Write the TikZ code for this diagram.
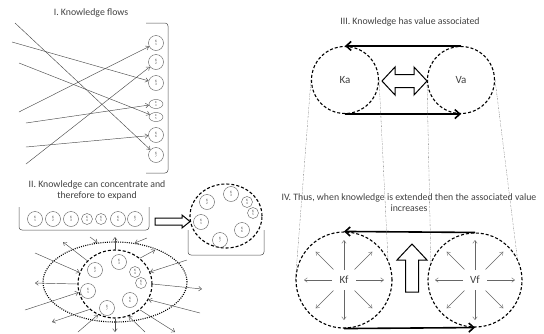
\documentclass[tikz,border=0pt]{standalone}
\usepackage{fontspec}
\setmainfont{Carlito}
\usetikzlibrary{arrows.meta,shapes.geometric}
\begin{document}
\begin{tikzpicture}[x=1pt,y=-1pt,
  title/.style={font=\fontsize{9.8}{11}\selectfont, text=black!75, align=center},
  kc/.style={circle, draw=black!65, line width=0.4pt, minimum size=15pt, inner sep=0pt, align=center, font=\fontsize{3.5}{3.4}\selectfont, text=black!70},
  kcs/.style={kc, minimum size=11pt},
  kce/.style={ellipse, draw=black!65, line width=0.4pt, minimum width=14pt, minimum height=9pt, inner sep=0pt, align=center, font=\fontsize{3}{2.8}\selectfont, text=black!70},
  flow/.style={draw=black!70, line width=0.45pt, -{Straight Barb[length=3pt,width=4.5pt]}},
  brk/.style={draw=black!70, line width=0.5pt, rounded corners=3pt},
  bigcirc/.style={draw=black, line width=1.1pt, dash pattern=on 3pt off 2pt, inner sep=0pt},
  dotell/.style={ellipse, draw=black, line width=1.1pt, dash pattern=on 1pt off 1.2pt, inner sep=0pt},
  bigarrow/.style={draw=black, line width=1.6pt, -{Straight Barb[length=5pt,width=9pt]}},
  guide/.style={draw=black!55, line width=0.3pt, dash pattern=on 2pt off 1pt on 0.5pt off 1pt},
  hollow/.style={draw=black, line width=1pt, fill=white, line join=miter},
  lbl/.style={font=\fontsize{11}{12}\selectfont, text=black!75},
  sarrow/.style={draw=black!60, line width=0.4pt, -{Straight Barb[length=3pt,width=4.5pt]}},
]
\useasboundingbox (0,0) rectangle (544,333);

% ---------- I ----------
\node[title] (t1) at (91,13) {I. Knowledge flows};
\draw[brk] (146,23) -- (168,23) -- (168,173) -- (146,173);
\node[kc] (k1) at (156,43) {K\\1};
\node[kc] (k2) at (156,62) {K\\2};
\node[kc] (k3) at (156,83) {K\\3};
\node[kce] (k4) at (156,104) {K\\4};
\node[kce] (k5) at (156,117) {K\\5};
\node[kc] (k6) at (156,135) {K\\6};
\node[kc] (k7) at (156,155) {K\\7};
\coordinate (a1) at (15,23);
\coordinate (a2) at (12,42);
\coordinate (a3) at (19,63);
\coordinate (a4) at (19,112);
\coordinate (a5) at (26,123);
\coordinate (a6) at (26,147);
\coordinate (a7) at (26,164);
\draw[flow] (a1) -- (k7);
\draw[flow] (a2) -- (k3);
\draw[flow] (a3) -- (k5);
\draw[flow] (a4) -- (k1);
\draw[flow] (a5) -- (k4);
\draw[flow] (a6) -- (k6);
\draw[flow] (a7) -- (k2);

% ---------- II ----------
\node[title] (t2) at (97,190) {II. Knowledge can concentrate and\\therefore to expand};
\draw[brk] (19,207) -- (19,230) -- (149,230) -- (149,207);
\node[kc] (r1) at (35,219) {K\\1};
\node[kc] (r2) at (53,219) {K\\2};
\node[kc] (r3) at (71,219) {K\\3};
\node[kcs] (r4) at (87,219) {K\\4};
\node[kcs] (r5) at (101,219) {K\\5};
\node[kc] (r6) at (118,219) {K\\6};
\node[kc] (r7) at (135,219) {K\\7};

\draw[hollow] (155,218) -- (182,218) -- (182,215) -- (190,221.5) -- (182,228) -- (182,225) -- (155,225) -- cycle;

\draw[brk] (188,230) -- (188,255) -- (264,255) -- (264,230);
\node[ellipse, bigcirc, minimum width=72pt, minimum height=64pt] (dct) at (226,216) {};
\node[kc] (u2) at (207,202) {K\\2};
\node[kc] (u3) at (231,194) {K\\3};
\node[kcs] (u4) at (247,202) {K\\4};
\node[kcs] (u5) at (253,213) {K\\5};
\node[kc] (u1) at (201,222) {K\\1};
\node[kc] (u6) at (242,230) {K\\6};
\node[kc] (u7) at (220,240) {K\\7};

\node[dotell, minimum width=144pt, minimum height=80pt] (deb) at (115,282) {};
\node[ellipse, bigcirc, minimum width=74pt, minimum height=68pt] (dcb) at (115,284) {};
\node[kc] (b3) at (119,262) {K\\3};
\node[kc] (b2) at (95,270) {K\\2};
\node[kcs] (b4) at (135,272) {K\\4};
\node[kcs] (b5) at (141,283) {K\\5};
\node[kc] (b1) at (88,291) {K\\1};
\node[kc] (b6) at (130,300) {K\\6};
\node[kc] (b7) at (107,308) {K\\7};

\coordinate (o1) at (63,242);
\coordinate (o2) at (115,237);
\coordinate (o3) at (155,250);
\coordinate (o4) at (202,289);
\coordinate (o5) at (175,332);
\coordinate (o6) at (115,332);
\coordinate (o7) at (52,322);
\coordinate (o8) at (35,283);
\draw[flow] (dcb.140) -- (o1);
\draw[flow] (dcb.90) -- (o2);
\draw[flow] (dcb.46) -- (o3);
\draw[flow] (dcb.0) -- (o4);
\draw[flow] (dcb.-46) -- (o5);
\draw[flow] (dcb.270) -- (o6);
\draw[flow] (dcb.225) -- (o7);
\draw[flow] (dcb.180) -- (o8);
\coordinate (i1) at (90,237);
\coordinate (i2) at (147,238);
\coordinate (i3) at (187,260);
\coordinate (i4) at (200,313);
\coordinate (i5) at (145,332);
\coordinate (i6) at (78,332);
\coordinate (i7) at (25,310);
\coordinate (i8) at (35,253);
\draw[flow] (i1) -- (deb.114);
\draw[flow] (i2) -- (deb.63);
\draw[flow] (i3) -- (dcb.19);
\draw[flow] (i4) -- (dcb.-25);
\draw[flow] (i5) -- (dcb.-67);
\draw[flow] (i6) -- (dcb.241);
\draw[flow] (i7) -- (dcb.193);
\draw[flow] (i8) -- (dcb.162);

% ---------- III ----------
\node[title] (t3) at (410,22) {III. Knowledge has value associated};
\node[circle, bigcirc, minimum size=67pt] (Ka) at (345,80) {};
\node[circle, bigcirc, minimum size=67pt] (Va) at (461,80) {};
\node[lbl] at (Ka) {Ka};
\node[lbl] at (Va) {Va};
\draw[bigarrow] (Va.north) -- (Ka.north);
\draw[bigarrow] (Ka.south) -- (Va.south);
\draw[hollow] (382,81) -- (395,67) -- (395,74.5) -- (414,74.5) -- (414,67) -- (427,81) -- (414,95) -- (414,87.5) -- (395,87.5) -- (395,95) -- cycle;

% ---------- IV ----------
\node[title] (t4) at (409,202.5) {IV. Thus, when knowledge is extended then the associated value\\increases};
\node[circle, bigcirc, minimum size=96pt] (Kf) at (344,280) {};
\node[circle, bigcirc, minimum size=94pt] (Vf) at (475,280) {};
\node[lbl] at (Kf) {Kf};
\node[lbl] at (Vf) {Vf};
\draw[bigarrow] (Vf.north) -- (Kf.north);
\draw[bigarrow] (Kf.south) -- (Vf.south);
\draw[hollow] (412,244) -- (427,260) -- (418.5,260) -- (418.5,292) -- (405.5,292) -- (405.5,260) -- (397,260) -- cycle;

\foreach \a/\s in {0/12,45/15,90/10,135/15,180/12,225/15,270/10,315/15}{
  \draw[sarrow] ([shift={(\a:\s)}]Kf.center) -- ([shift={(\a:40)}]Kf.center);
  \draw[sarrow] ([shift={(\a:\s)}]Vf.center) -- ([shift={(\a:40)}]Vf.center);
}

% guide lines
\draw[guide] (Ka.west) -- (Kf.west);
\draw[guide] (Ka.east) -- (Kf.25);
\draw[guide] (Va.west) -- (Vf.158);
\draw[guide] (Va.east) -- (Vf.27);
\end{tikzpicture}
\end{document}
